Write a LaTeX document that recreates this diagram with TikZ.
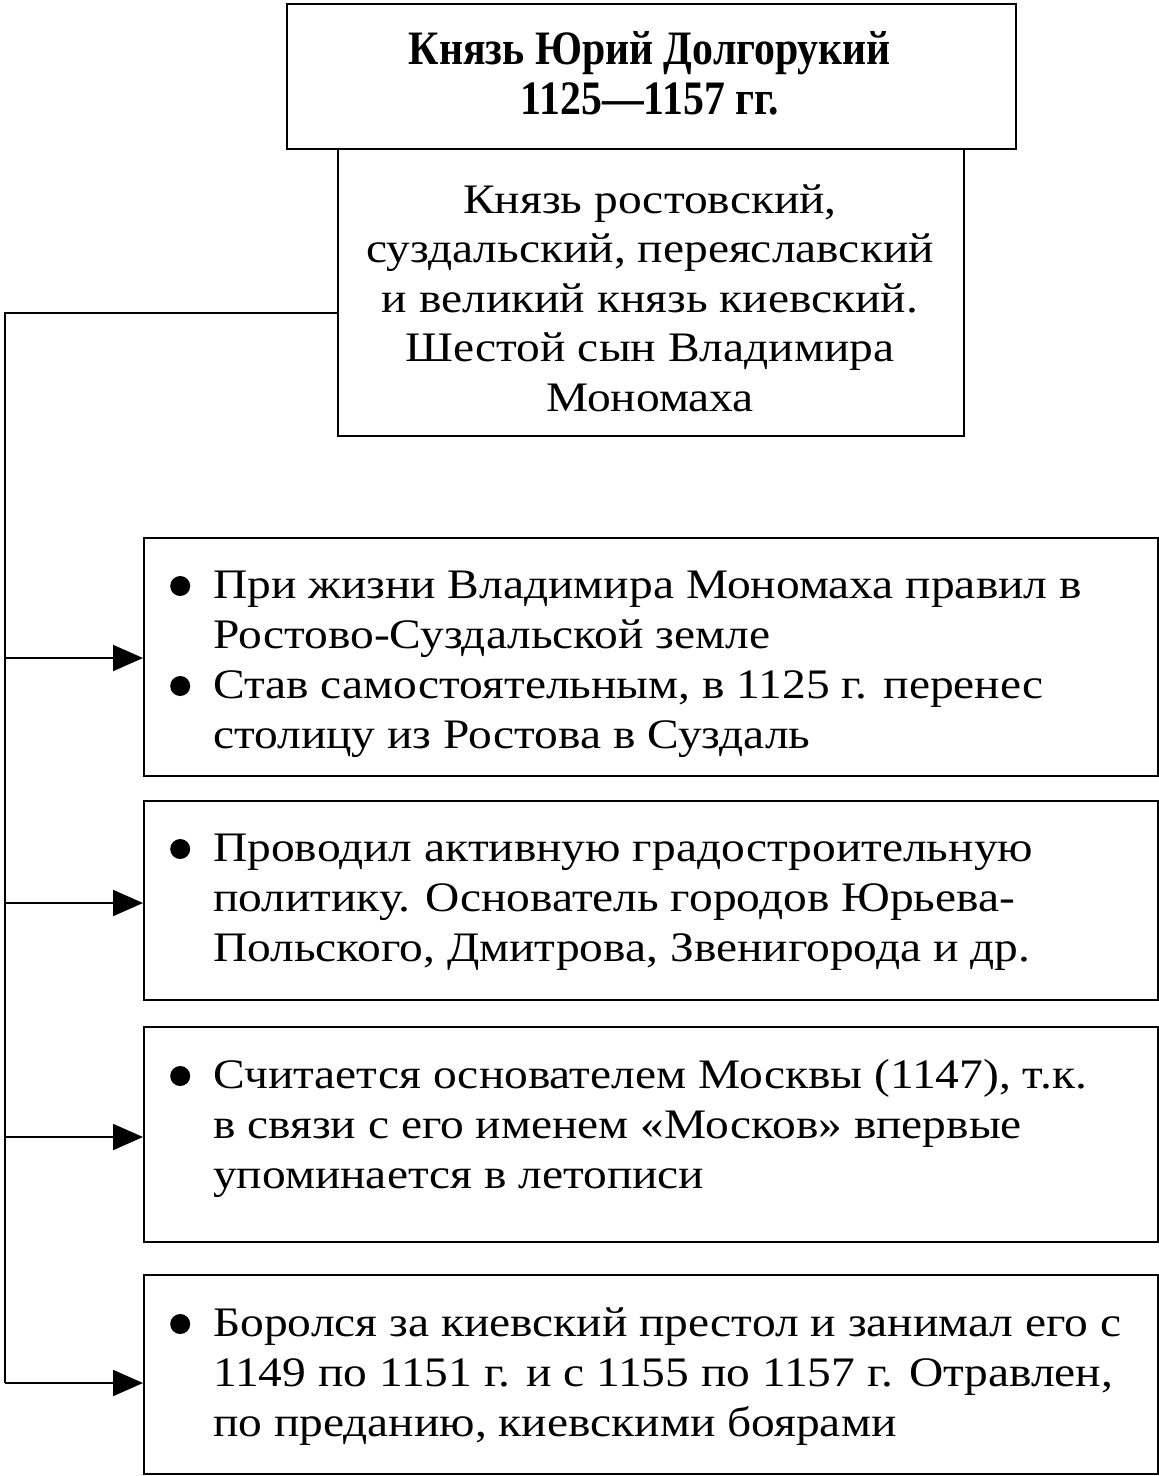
\documentclass[tikz,border=0pt]{standalone}
\usepackage{fontspec}
\setmainfont{Liberation Serif}[FakeStretch=1.13]
\newfontfamily\titlefont{Liberation Serif}[FakeStretch=0.87]
\usetikzlibrary{arrows.meta}
\newcommand\bulletmark{\llap{\tikz[baseline=-12pt]\fill (0pt,0pt) circle[radius=10pt];\hspace{23pt}}}
\tikzset{
  frame/.style={draw, line width=2pt, rectangle, inner sep=0pt, anchor=north west},
  bodytext/.style={anchor=base west, align=left, inner sep=0pt, font=\fontsize{42}{50}\selectfont},
  conn/.style={line width=2pt},
  arr/.style={line width=2pt, -{Triangle[length=30pt,width=26pt]}},
}
\begin{document}
\begin{tikzpicture}[x=1pt,y=-1pt]
\useasboundingbox (0,0) rectangle (1159,1476);
% boxes
\node[frame, minimum width=729pt, minimum height=145pt] (title) at (286,3) {};
\node[frame, minimum width=626pt, minimum height=287pt] (info) at (337,148) {};
\node[frame, minimum width=1014pt, minimum height=238pt] (b1) at (143,537) {};
\node[frame, minimum width=1014pt, minimum height=199pt] (b2) at (143,800) {};
\node[frame, minimum width=1014pt, minimum height=215pt] (b3) at (143,1026) {};
\node[frame, minimum width=1014pt, minimum height=199pt] (b4) at (143,1274) {};
% texts (base anchor = baseline of the last line)
\node[anchor=base, align=center, inner sep=0pt, font=\titlefont\bfseries\fontsize{48}{50}\selectfont] (titletext) at (650,114)
  {Князь Юрий Долгорукий\\1125—1157 гг.};
\node[anchor=base, align=center, inner sep=0pt, font=\fontsize{42}{49.5}\selectfont] (infotext) at (650,411)
  {Князь ростовский,\\суздальский, переяславский\\и великий князь киевский.\\Шестой сын Владимира\\Мономаха};
\node[bodytext] (t1) at (213,748)
  {\bulletmark При жизни Владимира Мономаха правил в\\Ростово-Суздальской земле\\\bulletmark Став самостоятельным, в 1125 г. перенес\\столицу из Ростова в Суздаль};
\node[bodytext] (t2) at (213,961)
  {\bulletmark Проводил активную градостроительную\\политику. Основатель городов Юрьева-\\Польского, Дмитрова, Звенигорода и др.};
\node[bodytext] (t3) at (213,1188)
  {\bulletmark Считается основателем Москвы (1147), т.к.\\в связи с его именем «Москов» впервые\\упоминается в летописи};
\node[bodytext] (t4) at (213,1436)
  {\bulletmark Боролся за киевский престол и занимал его с\\1149 по 1151 г. и с 1155 по 1157 г. Отравлен,\\по преданию, киевскими боярами};
% connectors
\coordinate (top) at (5,313);
\coordinate (k1) at (5,658);
\coordinate (k2) at (5,903);
\coordinate (k3) at (5,1137);
\coordinate (k4) at (5,1383);
\draw[conn] (info.west |- top) -- (top) -- (k4);
\draw[arr] (k1) -- (k1 -| b1.west);
\draw[arr] (k2) -- (k2 -| b2.west);
\draw[arr] (k3) -- (k3 -| b3.west);
\draw[arr] (k4) -- (k4 -| b4.west);
\end{tikzpicture}
\end{document}
